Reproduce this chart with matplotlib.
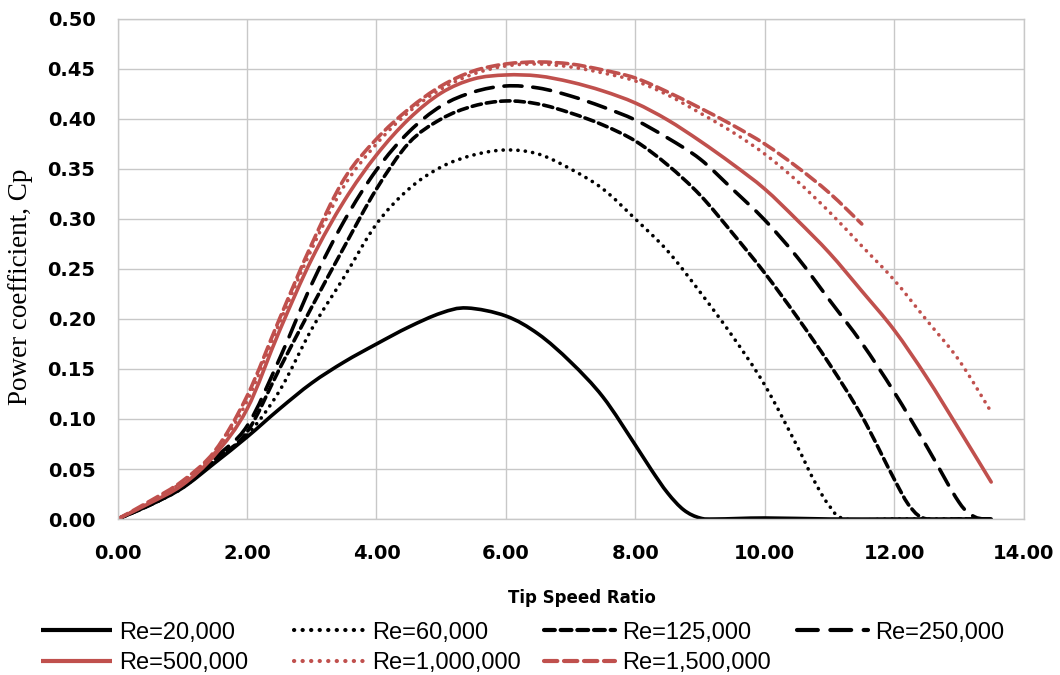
import matplotlib
matplotlib.use("Agg")
import numpy as np
import matplotlib.pyplot as plt
from matplotlib.path import Path
from matplotlib.patches import PathPatch
from matplotlib.lines import Line2D
from matplotlib.ticker import MultipleLocator, FormatStrFormatter

# ---------------- data ----------------
tsr = [0.0, 0.5, 1.0, 1.5, 2.0, 2.5, 3.0, 3.5, 4.0, 4.5, 5.0, 5.5, 6.0, 6.5,
       7.0, 7.5, 8.0, 8.5, 9.0, 9.5, 10.0, 10.5, 11.0, 11.5, 12.0, 12.5, 13.0, 13.5]

tsr_20k = [0.0, 0.5, 1.0, 1.5, 2.0, 2.5, 3.0, 3.5, 4.0, 4.5, 5.0, 5.4, 6.0, 6.5,
           7.0, 7.5, 8.0, 8.25, 8.5, 8.75, 9.0, 9.25, 10.0, 11.0, 12.0, 13.0, 13.5]
cp_20k = [0.0, 0.014, 0.031, 0.056, 0.082, 0.110, 0.136, 0.157, 0.175, 0.192, 0.206, 0.211, 0.203, 0.185,
          0.157, 0.122, 0.074, 0.049, 0.026, 0.009, 0.001, 0.0, 0.001, 0.0, 0.0, 0.0, 0.0]

tsr_60k = [0.0, 0.5, 1.0, 1.5, 2.0, 2.5, 3.0, 3.5, 4.0, 4.5, 5.0, 5.5, 6.0, 6.5,
           7.0, 7.5, 8.0, 8.5, 9.0, 9.5, 10.0, 10.5, 10.75, 11.0, 11.25, 12.0, 13.0, 13.5]
cp_60k = [0.0, 0.014, 0.031, 0.058, 0.084, 0.128, 0.190, 0.242, 0.295, 0.330, 0.352, 0.364, 0.369, 0.365,
          0.350, 0.330, 0.300, 0.268, 0.227, 0.183, 0.134, 0.073, 0.040, 0.013, 0.0, 0.0, 0.0, 0.0]

tsr_125k = [0.0, 0.5, 1.0, 1.5, 2.0, 2.5, 3.0, 3.5, 4.0, 4.5, 5.0, 5.5, 6.0, 6.5,
            7.0, 7.5, 8.0, 8.5, 9.0, 9.5, 10.0, 10.5, 11.0, 11.5, 12.0, 12.25, 12.5, 13.0, 13.5]
cp_125k = [0.0, 0.014, 0.032, 0.059, 0.087, 0.150, 0.212, 0.272, 0.330, 0.376, 0.400, 0.413, 0.418, 0.415,
           0.406, 0.394, 0.378, 0.354, 0.324, 0.286, 0.246, 0.202, 0.155, 0.103, 0.040, 0.012, 0.0, 0.0, 0.0]

tsr_250k = [0.0, 0.5, 1.0, 1.5, 2.0, 2.5, 3.0, 3.5, 4.0, 4.5, 5.0, 5.5, 6.0, 6.5,
            7.0, 7.5, 8.0, 8.5, 9.0, 9.5, 10.0, 10.5, 11.0, 11.5, 12.0, 12.5, 13.0, 13.25, 13.5]
cp_250k = [0.0, 0.015, 0.033, 0.061, 0.093, 0.160, 0.235, 0.298, 0.349, 0.387, 0.413, 0.427, 0.433, 0.431,
           0.423, 0.412, 0.399, 0.381, 0.360, 0.330, 0.299, 0.262, 0.219, 0.176, 0.127, 0.073, 0.017, 0.002, 0.0]

cp_500k = [0.0, 0.016, 0.034, 0.064, 0.110, 0.188, 0.260, 0.318, 0.364, 0.400, 0.426, 0.440, 0.444, 0.443,
           0.437, 0.428, 0.416, 0.399, 0.378, 0.355, 0.330, 0.299, 0.266, 0.228, 0.189, 0.142, 0.090, 0.037]

cp_1m = [0.0, 0.017, 0.037, 0.066, 0.118, 0.196, 0.270, 0.333, 0.375, 0.407, 0.430, 0.445, 0.453, 0.455,
         0.452, 0.446, 0.438, 0.424, 0.406, 0.387, 0.365, 0.338, 0.307, 0.273, 0.239, 0.199, 0.159, 0.107]

tsr_1500k = tsr[:24]
cp_1500k = [0.0, 0.018, 0.038, 0.068, 0.123, 0.200, 0.275, 0.340, 0.380, 0.410, 0.433, 0.448, 0.455, 0.457,
            0.455, 0.449, 0.441, 0.427, 0.411, 0.394, 0.375, 0.352, 0.326, 0.295]

labels = ["Re=20,000", "Re=60,000", "Re=125,000", "Re=250,000",
          "Re=500,000", "Re=1,000,000", "Re=1,500,000"]

# ---------------- styles ----------------
RED = "#c0504d"
LW = 2.6
DOT = (0, (0.05, 2.0))
styles = [
    dict(color="black", linestyle="-"),
    dict(color="black", linestyle=DOT),
    dict(color="black", linestyle=(0, (2.6, 1.4))),
    dict(color="black", linestyle=(0, (5.0, 3.0))),
    dict(color=RED, linestyle="-"),
    dict(color=RED, linestyle=DOT),
    dict(color=RED, linestyle=(0, (3.2, 1.6))),
]
series = [(tsr_20k, cp_20k), (tsr_60k, cp_60k), (tsr_125k, cp_125k), (tsr_250k, cp_250k),
          (tsr, cp_500k), (tsr, cp_1m), (tsr_1500k, cp_1500k)]


def smooth_path(xs, ys):
    # Excel-style smoothed line: Catmull-Rom segments as cubic Beziers
    pts = np.column_stack([xs, ys])
    n = len(pts)
    verts = [pts[0]]
    codes = [Path.MOVETO]
    for i in range(n - 1):
        p0 = pts[max(i - 1, 0)]
        p1 = pts[i]
        p2 = pts[i + 1]
        p3 = pts[min(i + 2, n - 1)]
        verts += [p1 + (p2 - p0) / 6.0, p2 - (p3 - p1) / 6.0, p2]
        codes += [Path.CURVE4] * 3
    return Path(verts, codes)


fig = plt.figure(figsize=(10.6, 6.75), dpi=100)
ax = fig.add_axes([0.111, 0.2311, 0.8546, 0.7408])

handles = []
for (xs, ys), st in zip(series, styles):
    patch = PathPatch(smooth_path(xs, ys), fill=False, edgecolor=st["color"], lw=LW,
                      linestyle=st["linestyle"], capstyle="round", joinstyle="round")
    ax.add_patch(patch)
    handles.append(Line2D([], [], color=st["color"], lw=LW + 0.4, linestyle=st["linestyle"],
                          dash_capstyle="round", solid_capstyle="butt"))

ax.set_xlim(0, 14)
ax.set_ylim(0, 0.5)
ax.xaxis.set_major_locator(MultipleLocator(2))
ax.yaxis.set_major_locator(MultipleLocator(0.05))
ax.xaxis.set_major_formatter(FormatStrFormatter("%.2f"))
ax.yaxis.set_major_formatter(FormatStrFormatter("%.2f"))
ax.grid(True, color="#c8c8c8", lw=1.0)
ax.set_axisbelow(True)
for s in ax.spines.values():
    s.set_color("#c8c8c8")
    s.set_linewidth(1.0)
ax.tick_params(length=0, labelsize=14)
ax.tick_params(axis="x", pad=18)
ax.tick_params(axis="y", pad=16)
for t in ax.get_xticklabels() + ax.get_yticklabels():
    t.set_fontweight("bold")

ax.set_xlabel("Tip Speed Ratio", fontsize=12, fontweight="bold")
ax.xaxis.set_label_coords(0.512, -0.14)
ax.set_ylabel("Power coefficient, Cp", fontsize=19.5, family="Liberation Serif")
ax.yaxis.set_label_coords(-0.093, 0.465)

# legend: Excel-like equal-width columns, row 1 = first four series
col_x = [0.0387, 0.2774, 0.5132, 0.7519]
for c in range(4):
    idx = [c, c + 4] if c + 4 < 7 else [c]
    fig.legend([handles[i] for i in idx], [labels[i] for i in idx],
               loc="upper left", bbox_to_anchor=(col_x[c], 0.079),
               frameon=False, handlelength=3.0, handletextpad=0.3,
               borderpad=0, borderaxespad=0, labelspacing=0.36,
               prop={"family": "Liberation Sans", "size": 17})

fig.savefig("out.png", dpi=100)
